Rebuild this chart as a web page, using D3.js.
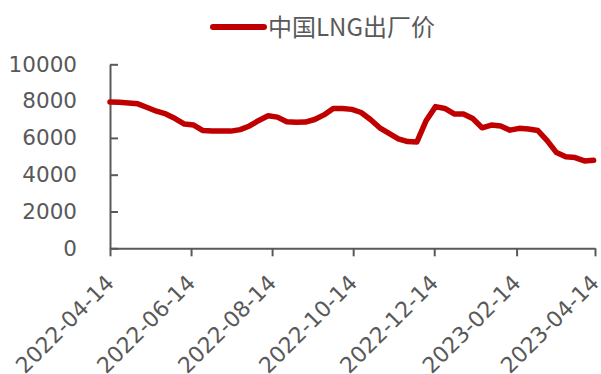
<!DOCTYPE html>
<html>
<head>
<meta charset="utf-8">
<script src="https://cdn.jsdelivr.net/npm/d3@7/dist/d3.min.js"></script>
<style>
  html, body { margin: 0; padding: 0; background: #fff; }
  svg { display: block; }
</style>
</head>
<body>
<svg id="chart" width="601" height="374"></svg>
<script>
// Weekly ex-factory LNG price in China (yuan/ton)
const seriesName = "中国LNG出厂价";
const dates = [
  "2022-04-14","2022-04-21","2022-04-28","2022-05-05","2022-05-12","2022-05-19","2022-05-26",
  "2022-06-02","2022-06-09","2022-06-16","2022-06-23","2022-06-30","2022-07-07","2022-07-14",
  "2022-07-21","2022-07-28","2022-08-04","2022-08-11","2022-08-18","2022-08-25","2022-09-01",
  "2022-09-08","2022-09-15","2022-09-22","2022-09-29","2022-10-06","2022-10-13","2022-10-20",
  "2022-10-27","2022-11-03","2022-11-10","2022-11-17","2022-11-24","2022-12-01","2022-12-08",
  "2022-12-15","2022-12-22","2022-12-29","2023-01-05","2023-01-12","2023-01-19","2023-01-26",
  "2023-02-02","2023-02-09","2023-02-16","2023-02-23","2023-03-02","2023-03-09","2023-03-16",
  "2023-03-23","2023-03-30","2023-04-06","2023-04-13"
];
const prices = [
  7950, 7940, 7900, 7850, 7650, 7450, 7300,
  7050, 6750, 6700, 6400, 6370, 6370, 6370,
  6450, 6650, 6950, 7200, 7130, 6880, 6850,
  6860, 7000, 7250, 7600, 7600, 7550, 7380,
  7000, 6550, 6250, 5950, 5800, 5780, 6950,
  7700, 7600, 7300, 7300, 7050, 6550, 6700,
  6650, 6420, 6520, 6480, 6400, 5850, 5200,
  4970, 4930, 4750, 4780
];
const xTickDates = ["2022-04-14","2022-06-14","2022-08-14","2022-10-14","2022-12-14","2023-02-14","2023-04-14"];
const yTicks = [0, 2000, 4000, 6000, 8000, 10000];

const parse = d3.timeParse("%Y-%m-%d");
const fmt = d3.timeFormat("%Y-%m-%d");
const data = dates.map((d, i) => ({ date: parse(d), value: prices[i] }));

const svg = d3.select("#chart");
const plot = { left: 110, right: 595, top: 64.3, bottom: 248.3 };
const axisColor = "#595959";
const lineColor = "#C00000";
const tickFont = "'DejaVu Sans', sans-serif";

const x = d3.scaleTime()
  .domain([parse(xTickDates[0]), parse(xTickDates[xTickDates.length - 1])])
  .range([plot.left, plot.right]);
const y = d3.scaleLinear().domain([0, 10000]).range([plot.bottom, plot.top]);

// Y axis: ticks point into the plot, labels on the left
const yAxis = svg.append("g")
  .attr("transform", `translate(${plot.left},0)`)
  .call(d3.axisLeft(y).tickValues(yTicks).tickFormat(d3.format("d"))
    .tickSizeInner(-8).tickSizeOuter(0).tickPadding(33));
yAxis.select(".domain").attr("stroke", axisColor).attr("stroke-width", 2);
yAxis.selectAll(".tick line").attr("stroke", axisColor).attr("stroke-width", 2);
yAxis.selectAll(".tick text")
  .attr("fill", axisColor)
  .style("font-family", tickFont)
  .style("font-size", "21.5px");

// X axis: ticks below, labels rotated
const xAxis = svg.append("g")
  .attr("transform", `translate(0,${plot.bottom})`)
  .call(d3.axisBottom(x).tickValues(xTickDates.map(parse)).tickFormat(fmt).tickSizeInner(8).tickSizeOuter(0));
xAxis.select(".domain").attr("stroke", axisColor).attr("stroke-width", 2);
xAxis.selectAll(".tick line").attr("stroke", axisColor).attr("stroke-width", 2);
xAxis.selectAll(".tick text")
  .attr("fill", axisColor)
  .style("font-family", tickFont)
  .style("font-size", "22px")
  .attr("text-anchor", "end")
  .attr("dy", null)
  .attr("y", 0)
  .attr("transform", "translate(5,36) rotate(-45)");

// Price line
const line = d3.line().x(d => x(d.date)).y(d => y(d.value));
svg.append("path")
  .datum(data)
  .attr("fill", "none")
  .attr("stroke", lineColor)
  .attr("stroke-width", 5.5)
  .attr("stroke-linejoin", "round")
  .attr("stroke-linecap", "round")
  .attr("d", line);

// Legend
const legend = svg.append("g").attr("transform", "translate(0,27)");
legend.append("line")
  .attr("x1", 213).attr("x2", 264).attr("y1", 0).attr("y2", 0)
  .attr("stroke", lineColor).attr("stroke-width", 6).attr("stroke-linecap", "round");
legend.append("text")
  .attr("x", 268).attr("y", 0).attr("dy", "0.36em")
  .attr("fill", axisColor)
  .style("font-family", "'Noto Sans CJK SC', 'Noto Sans', sans-serif")
  .style("font-size", "24px")
  .text(seriesName);
</script>
</body>
</html>
